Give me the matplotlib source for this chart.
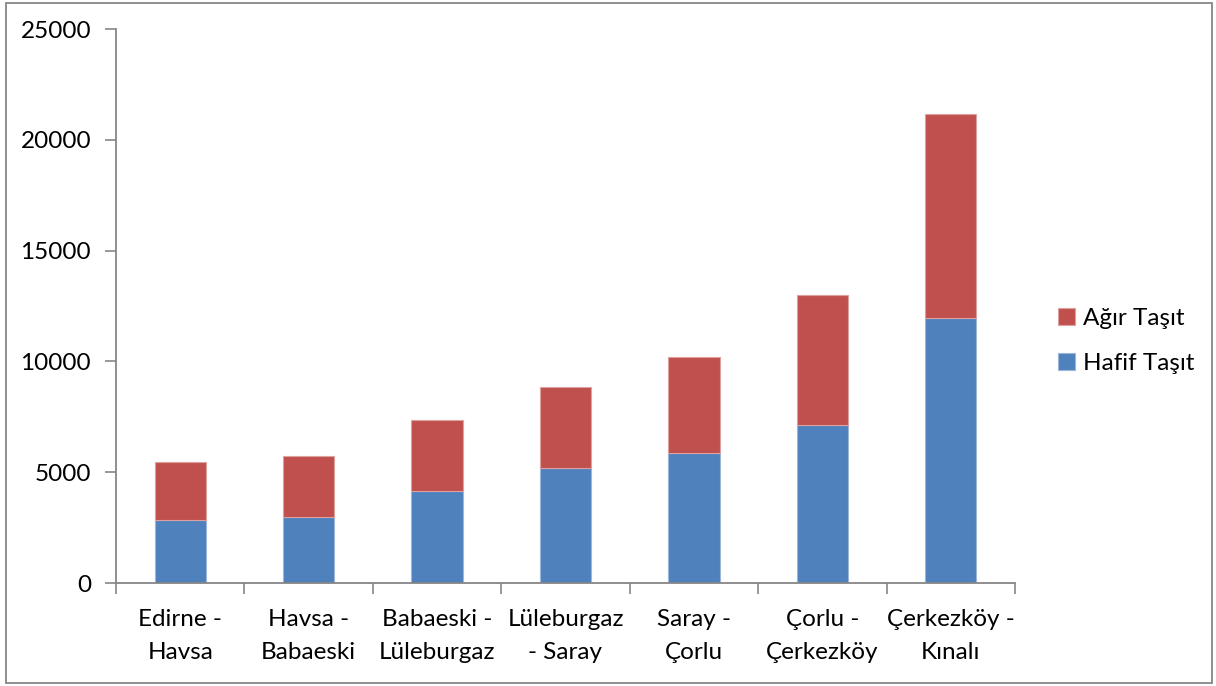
import matplotlib.pyplot as plt
from matplotlib.patches import Rectangle
import numpy as np

# segment names and vehicle counts
segments = ["Edirne -\nHavsa", "Havsa -\nBabaeski", "Babaeski -\nLüleburgaz",
            "Lüleburgaz\n- Saray", "Saray -\nÇorlu", "Çorlu -\nÇerkezköy",
            "Çerkezköy -\nKınalı"]
hafif = [2843, 2992, 4165, 5203, 5853, 7130, 11959]
agir = [2631, 2739, 3191, 3628, 4346, 5853, 9206]

plt.rcParams['font.family'] = ['Lato', 'DejaVu Sans']

fig = plt.figure(figsize=(12.16, 6.86), dpi=100)
ax = fig.add_axes([116/1216, 103/686, (1015-116)/1216, (583-29)/686])

x = np.arange(len(segments))
ax.bar(x, hafif, width=0.4, color='#4F81BD', edgecolor='#9DB6DA', lw=0.8, label='Hafif Taşıt')
ax.bar(x, agir, width=0.4, bottom=hafif, color='#C0504D', edgecolor='#DDA2A0', lw=0.8, label='Ağır Taşıt')

ax.set_xlim(-0.5, len(segments) - 0.5)
ax.set_ylim(0, 25000)
ax.set_yticks(np.arange(0, 25001, 5000))
ax.tick_params(axis='y', labelsize=17.5, length=8, width=1.2, color='#868686', pad=10)

ax.set_xticks(np.arange(-0.5, len(segments)), minor=False)
ax.set_xticklabels([])
ax.set_xticks(x, minor=True)
ax.set_xticklabels(segments, minor=True, fontsize=17.5, linespacing=1.7)
ax.tick_params(axis='x', which='major', length=8, width=1.2, color='#868686')
ax.tick_params(axis='x', which='minor', length=0, pad=19)

for s in ['top', 'right']:
    ax.spines[s].set_visible(False)
for s in ['left', 'bottom']:
    ax.spines[s].set_color('#868686')
    ax.spines[s].set_linewidth(1.3)

handles, labels = ax.get_legend_handles_labels()
fig.legend(handles[::-1], labels[::-1], loc='center left',
           bbox_to_anchor=(1036/1216, 1 - 341/686), frameon=False,
           fontsize=17.5, handlelength=0.7, handleheight=0.7,
           handletextpad=0.35, labelspacing=1.0)

# outer chart border
fig.patches.append(Rectangle((6/1216, 3/686), 1206/1216, 680/686,
                             transform=fig.transFigure, fill=False,
                             edgecolor='#868686', lw=1.3))

plt.savefig('out.png', dpi=100)
